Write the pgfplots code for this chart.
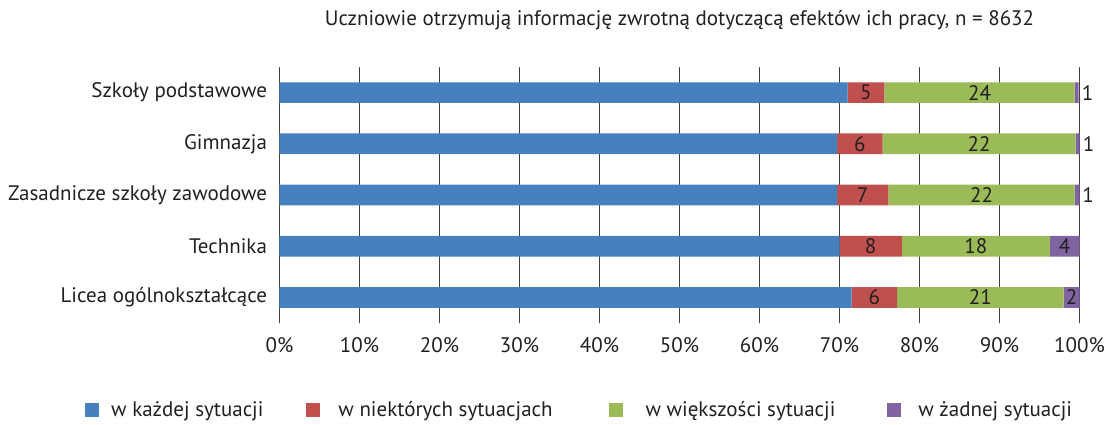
\documentclass[border=0pt]{standalone}
\usepackage{pgfplots}
\usepackage{pgfplotstable}
\pgfplotsset{compat=1.18}
\usepackage{fontspec}
\setmainfont{PT Sans}

\definecolor{cblue}{HTML}{4680BF}
\definecolor{cred}{HTML}{C0504D}
\definecolor{cgreen}{HTML}{9BBB59}
\definecolor{cpurple}{HTML}{8064A2}
\definecolor{ctext}{HTML}{231F20}

% y: 0 = Szkoly podstawowe (top) ... 4 = Licea (bottom)
\pgfplotstableread{
y val
0 71.0
1 69.7
2 69.7
3 70.0
4 71.5
}\blueT
\pgfplotstableread{
y val lab
0 4.6 5
1 5.7 6
2 6.4 7
3 7.8 8
4 5.7 6
}\redT
\pgfplotstableread{
y val lab
0 23.8 24
1 24.1 22
2 23.3 22
3 18.5 18
4 20.8 21
}\greenT
\pgfplotstableread{
y val lab off
0 0.5 1 11
1 0.5 1 11
2 0.6 1 11
3 3.7 4 0
4 2.0 2 0
}\purpleT

\begin{document}
\begin{tikzpicture}[font=\fontsize{21}{25}\selectfont, text=ctext]
\useasboundingbox (-279.5pt,-101pt) rectangle (829.5pt,323pt);
\begin{axis}[
  xbar stacked,
  scale only axis,
  width=800pt, height=256pt,
  xmin=0, xmax=100,
  ymin=-0.5, ymax=4.5, y dir=reverse,
  bar width=20.7pt,
  axis line style={draw=none},
  major tick length=0pt,
  xtick={0,10,...,100},
  xmajorgrids,
  grid style={color=black!75, line width=0.9pt},
  ytick={0,1,2,3,4},
  yticklabels={Szkoły podstawowe, Gimnazja, Zasadnicze szkoły zawodowe, Technika, Licea ogólnokształcące},
  xticklabel={\pgfmathprintnumber{\tick}\%},
  /pgf/number format/assume math mode=true,
  xticklabel style={yshift=-11pt},
  yticklabel style={xshift=-9pt},
  title={Uczniowie otrzymują informację zwrotną dotyczącą efektów ich pracy, n = 8632},
  title style={at={(0.5,1)}, anchor=center, yshift=41pt},
  legend columns=4,
  legend style={at={(-0.2431,-0.340)}, anchor=west, draw=none, fill=none,
    inner sep=0pt, nodes={inner sep=0pt},
    /tikz/column 1/.style={column sep=12pt},
    /tikz/column 2/.style={column sep=43pt},
    /tikz/column 3/.style={column sep=18pt},
    /tikz/column 4/.style={column sep=56pt},
    /tikz/column 5/.style={column sep=23pt},
    /tikz/column 6/.style={column sep=52pt},
    /tikz/column 7/.style={column sep=17pt}},
  every axis plot post/.append style={
    legend image code/.code={\fill[##1] (0pt,-7pt) rectangle (14pt,7pt);}},
]
\addplot[fill=cblue, draw=none] table[x=val, y=y] {\blueT};
\addplot[fill=cred, draw=none, nodes near coords, point meta=explicit symbolic]
  table[x=val, y=y, meta=lab] {\redT};
\addplot[fill=cgreen, draw=none, nodes near coords, point meta=explicit symbolic]
  table[x=val, y=y, meta=lab] {\greenT};
\addplot[fill=cpurple, draw=none, nodes near coords, point meta=explicit symbolic,
  visualization depends on={\thisrow{off} \as \off},
  every node near coord/.append style={xshift=\off pt}]
  table[x=val, y=y, meta=lab] {\purpleT};
\legend{w każdej sytuacji, w niektórych sytuacjach, w większości sytuacji, w żadnej sytuacji}
\end{axis}
\end{tikzpicture}
\end{document}
